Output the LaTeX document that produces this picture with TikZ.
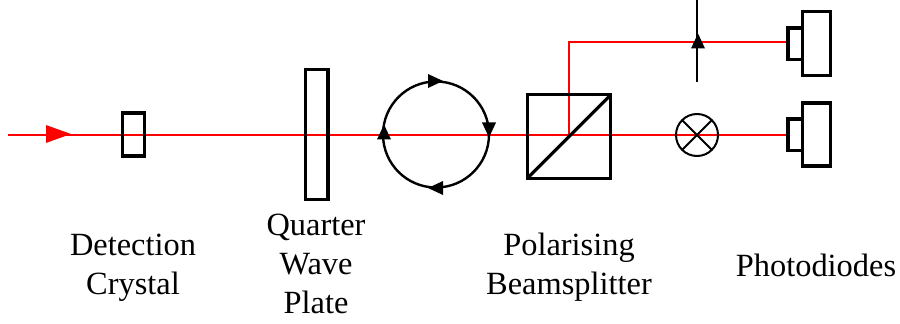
\documentclass[tikz,border=0pt]{standalone}
\usepackage{fontspec}
\setmainfont{Liberation Serif}
\begin{document}
\begin{tikzpicture}[x=0.75pt,y=-0.75pt,
  optic/.style={draw=black,line width=2.4pt,rectangle,inner sep=0pt,outer sep=0pt},
  ring/.style={draw=black,line width=1.8pt,circle,inner sep=0pt,outer sep=0pt},
  beam/.style={draw=red,line width=1.7pt},
  wire/.style={draw=black,line width=1.8pt},
  label/.style={font=\fontsize{24.3}{29.25}\selectfont,align=center,inner sep=0pt},
  tipblack/.pic={\fill[black] (7.5,0)--(-7.5,7)--(-7.5,-7)--cycle;},
  tipred/.pic={\fill[red] (12.5,0)--(-12.5,9)--(-12.5,-9)--cycle;}]
\useasboundingbox (0,0) rectangle (900,324);
% coordinates of the beam
\coordinate (src) at (8,135);
\coordinate (split) at (569,135);
\coordinate (corner) at (569,42);
\coordinate (waveTop) at (697,0);
\coordinate (waveBot) at (697,82);
\coordinate (pdAin) at (788,42);
\coordinate (pdBin) at (788,135);
% red beams
\draw[beam] (src) -- (pdBin);
\draw[beam] (split) -- (corner) -- (pdAin);
% optics
\node[optic,minimum width=22pt*0.75,minimum height=43pt*0.75] (crystal) at (133.5,134.5) {};
\node[optic,minimum width=22.5pt*0.75,minimum height=130pt*0.75] (qwp) at (316.8,134.7) {};
\node[optic,minimum width=83.6pt*0.75,minimum height=83.7pt*0.75] (cube) at (569,136.6) {};
\draw[optic] (cube.south west) -- (cube.north east);
\node[ring,minimum size=106pt*0.75] (pol) at (436,134.5) {};
\node[ring,minimum size=42pt*0.75,line width=1.5pt] (xc) at (697,135) {};
\draw[wire,line width=1.5pt] (xc.45) -- (xc.225);
\draw[wire,line width=1.5pt] (xc.135) -- (xc.315);
\draw[wire] (waveTop) -- (waveBot);
\node[optic,minimum width=27.7pt*0.75,minimum height=63.7pt*0.75] (pdA) at (816.3,43.3) {};
\node[optic,minimum width=14.5pt*0.75,minimum height=31.5pt*0.75] (pdAs) at (795.2,43.75) {};
\node[optic,minimum width=27.7pt*0.75,minimum height=63pt*0.75] (pdB) at (816.3,134.5) {};
\node[optic,minimum width=14.5pt*0.75,minimum height=31.5pt*0.75] (pdBs) at (795.2,134.75) {};
% arrowheads
\pic at (58.5,134) {tipred};
\pic at (435.5,81) {tipblack};
\pic[rotate=-90] at (489,130) {tipblack};
\pic[rotate=180] at (435.5,188) {tipblack};
\pic[rotate=90] at (384,132) {tipblack};
\pic[rotate=90] at (698,41) {tipblack};
% labels
\node[label] (lblA) at (133,267.5) {Detection\\Crystal};
\node[label] (lblB) at (316,264) {Quarter\\Wave\\Plate};
\node[label] (lblC) at (569,267.5) {Polarising\\Beamsplitter};
\node[label] (lblD) at (816,265) {Photodiodes};
\end{tikzpicture}
\end{document}
